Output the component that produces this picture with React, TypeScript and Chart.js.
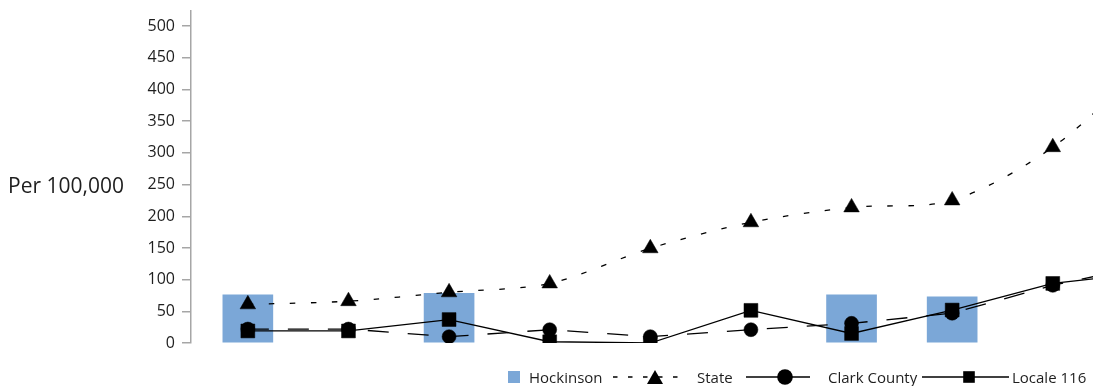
import React, { useEffect, useRef } from 'react';
import { Chart, registerables } from 'chart.js';

Chart.register(...registerables);

// Unlabelled periods in the source chart (10th one runs off the right edge)
const categories = ['1', '2', '3', '4', '5', '6', '7', '8', '9', '10'];
const hockinson: (number | null)[] = [76, null, 78.5, null, null, null, 76, 73, null, null];
const stateValues = [61, 66, 80, 94, 149.5, 190.5, 214, 225, 309, 450];
const clarkCounty = [22, 22, 10, 21, 10, 21, 31, 47, 91, 125];
const locale116 = [19, 19, 37, 2, 0, 51.5, 15, 52, 94, 112];
const yTicks = [0, 50, 100, 150, 200, 250, 300, 350, 400, 450, 500];

const yTitle = 'Per 100,000';
const seriesNames = ['Hockinson', 'State', 'Clark County', 'Locale 116'];

const BAR_COLOR = '#7ba7d7';
const FONT = '"Open Sans", "DejaVu Sans", sans-serif';

const toXY = (vals: (number | null)[]) =>
  categories.map((_, i) => ({ x: i, y: vals[i] })).filter((p) => p.y !== null);

export default function App() {
  const ref = useRef<HTMLCanvasElement | null>(null);

  useEffect(() => {
    if (!ref.current) return;
    const chart = new Chart(ref.current, {
      type: 'bar',
      data: {
        datasets: [
          {
            type: 'bar',
            label: seriesNames[0],
            data: toXY(hockinson) as any,
            backgroundColor: BAR_COLOR,
            borderWidth: 0,
            barThickness: 50,
            order: 10,
          },
          {
            type: 'line',
            label: seriesNames[1],
            data: toXY(stateValues) as any,
            borderColor: '#000',
            borderWidth: 1.3,
            borderDash: [5.5, 15.5],
            tension: 0.3,
            pointStyle: 'triangle',
            pointRadius: 9,
            pointBackgroundColor: '#000',
            pointBorderColor: '#000',
            pointBorderWidth: 0.5,
            order: 3,
          },
          {
            type: 'line',
            label: seriesNames[2],
            data: toXY(clarkCounty) as any,
            borderColor: '#000',
            borderWidth: 1.3,
            borderDash: [21, 19],
            tension: 0,
            pointStyle: 'circle',
            pointRadius: 7,
            pointBackgroundColor: '#000',
            pointBorderColor: '#000',
            pointBorderWidth: 0.5,
            clip: { left: 30, top: 30, right: 30, bottom: 0 } as any,
            order: 2,
          },
          {
            type: 'line',
            label: seriesNames[3],
            data: toXY(locale116) as any,
            borderColor: '#000',
            borderWidth: 1.3,
            tension: 0,
            pointStyle: 'rect',
            pointRadius: 9.8,
            pointBackgroundColor: '#000',
            pointBorderColor: '#000',
            pointBorderWidth: 0.5,
            clip: { left: 30, top: 30, right: 30, bottom: 0 } as any,
            order: 1,
          },
        ],
      },
      options: {
        animation: false,
        responsive: false,
        devicePixelRatio: 1,
        layout: { padding: { left: 0, top: 6, right: 0, bottom: 43 } },
        plugins: {
          legend: { display: false },
          tooltip: { enabled: false },
        },
        scales: {
          x: {
            type: 'linear',
            display: false,
            min: -0.565,
            max: 9.5,
            offset: false,
            grid: { display: false },
          },
          y: {
            type: 'linear',
            min: 0,
            max: 525,
            afterBuildTicks: (scale: any) => {
              scale.ticks = yTicks.map((v) => ({ value: v }));
            },
            afterFit: (scale: any) => {
              scale.width = 191;
              scale.paddingTop = 0;
              scale.paddingBottom = 0;
            },
            ticks: {
              padding: 7,
              color: '#1e1e1e',
              font: { family: FONT, size: 16 },
            },
            grid: {
              drawOnChartArea: false,
              drawTicks: true,
              tickLength: 9,
              color: '#a6a6a6',
              lineWidth: 1.5,
            },
            border: { display: true, color: '#a6a6a6', width: 1.5 },
          },
        },
      },
    });
    return () => chart.destroy();
  }, []);

  const textStyle: React.CSSProperties = {
    position: 'absolute',
    fontFamily: FONT,
    fontSize: 15,
    color: '#1e1e1e',
    whiteSpace: 'nowrap',
    top: 367,
  };
  const cy = 8;

  return (
    <div
      style={{
        position: 'fixed',
        left: 0,
        top: 0,
        width: 1093,
        height: 386,
        overflow: 'hidden',
        background: '#fff',
      }}
    >
      <canvas
        ref={ref}
        width={1214}
        height={386}
        style={{ position: 'absolute', left: 0, top: 0, display: 'block' }}
      />
      <div
        style={{
          position: 'absolute',
          left: 8,
          top: 171,
          fontFamily: FONT,
          fontSize: 21,
          color: '#1e1e1e',
          whiteSpace: 'nowrap',
        }}
      >
        {yTitle}
      </div>

      {/* Legend */}
      <div
        style={{
          position: 'absolute',
          left: 508,
          top: 371,
          width: 12,
          height: 12,
          background: BAR_COLOR,
        }}
      />
      <div style={{ ...textStyle, left: 529 }}>{seriesNames[0]}</div>

      <svg style={{ position: 'absolute', left: 610, top: 369 }} width={80} height={16}>
        <line x1={3} y1={cy} x2={77} y2={cy} stroke="#000" strokeWidth={1.3} strokeDasharray="4.5 10.5" />
        <polygon points={`${45},${cy - 7} ${53},${cy + 7} ${37},${cy + 7}`} fill="#000" />
      </svg>
      <div style={{ ...textStyle, left: 697 }}>{seriesNames[1]}</div>

      <svg style={{ position: 'absolute', left: 744, top: 369 }} width={68} height={16}>
        <line x1={2} y1={cy} x2={66} y2={cy} stroke="#000" strokeWidth={1.3} />
        <circle cx={41} cy={cy} r={7.8} fill="#000" />
      </svg>
      <div style={{ ...textStyle, left: 828 }}>{seriesNames[2]}</div>

      <svg style={{ position: 'absolute', left: 920, top: 369 }} width={90} height={16}>
        <line x1={2} y1={cy} x2={89} y2={cy} stroke="#000" strokeWidth={1.3} />
        <rect x={43.2} y={cy - 5.8} width={11.6} height={11.6} fill="#000" />
      </svg>
      <div style={{ ...textStyle, left: 1012 }}>{seriesNames[3]}</div>
    </div>
  );
}
